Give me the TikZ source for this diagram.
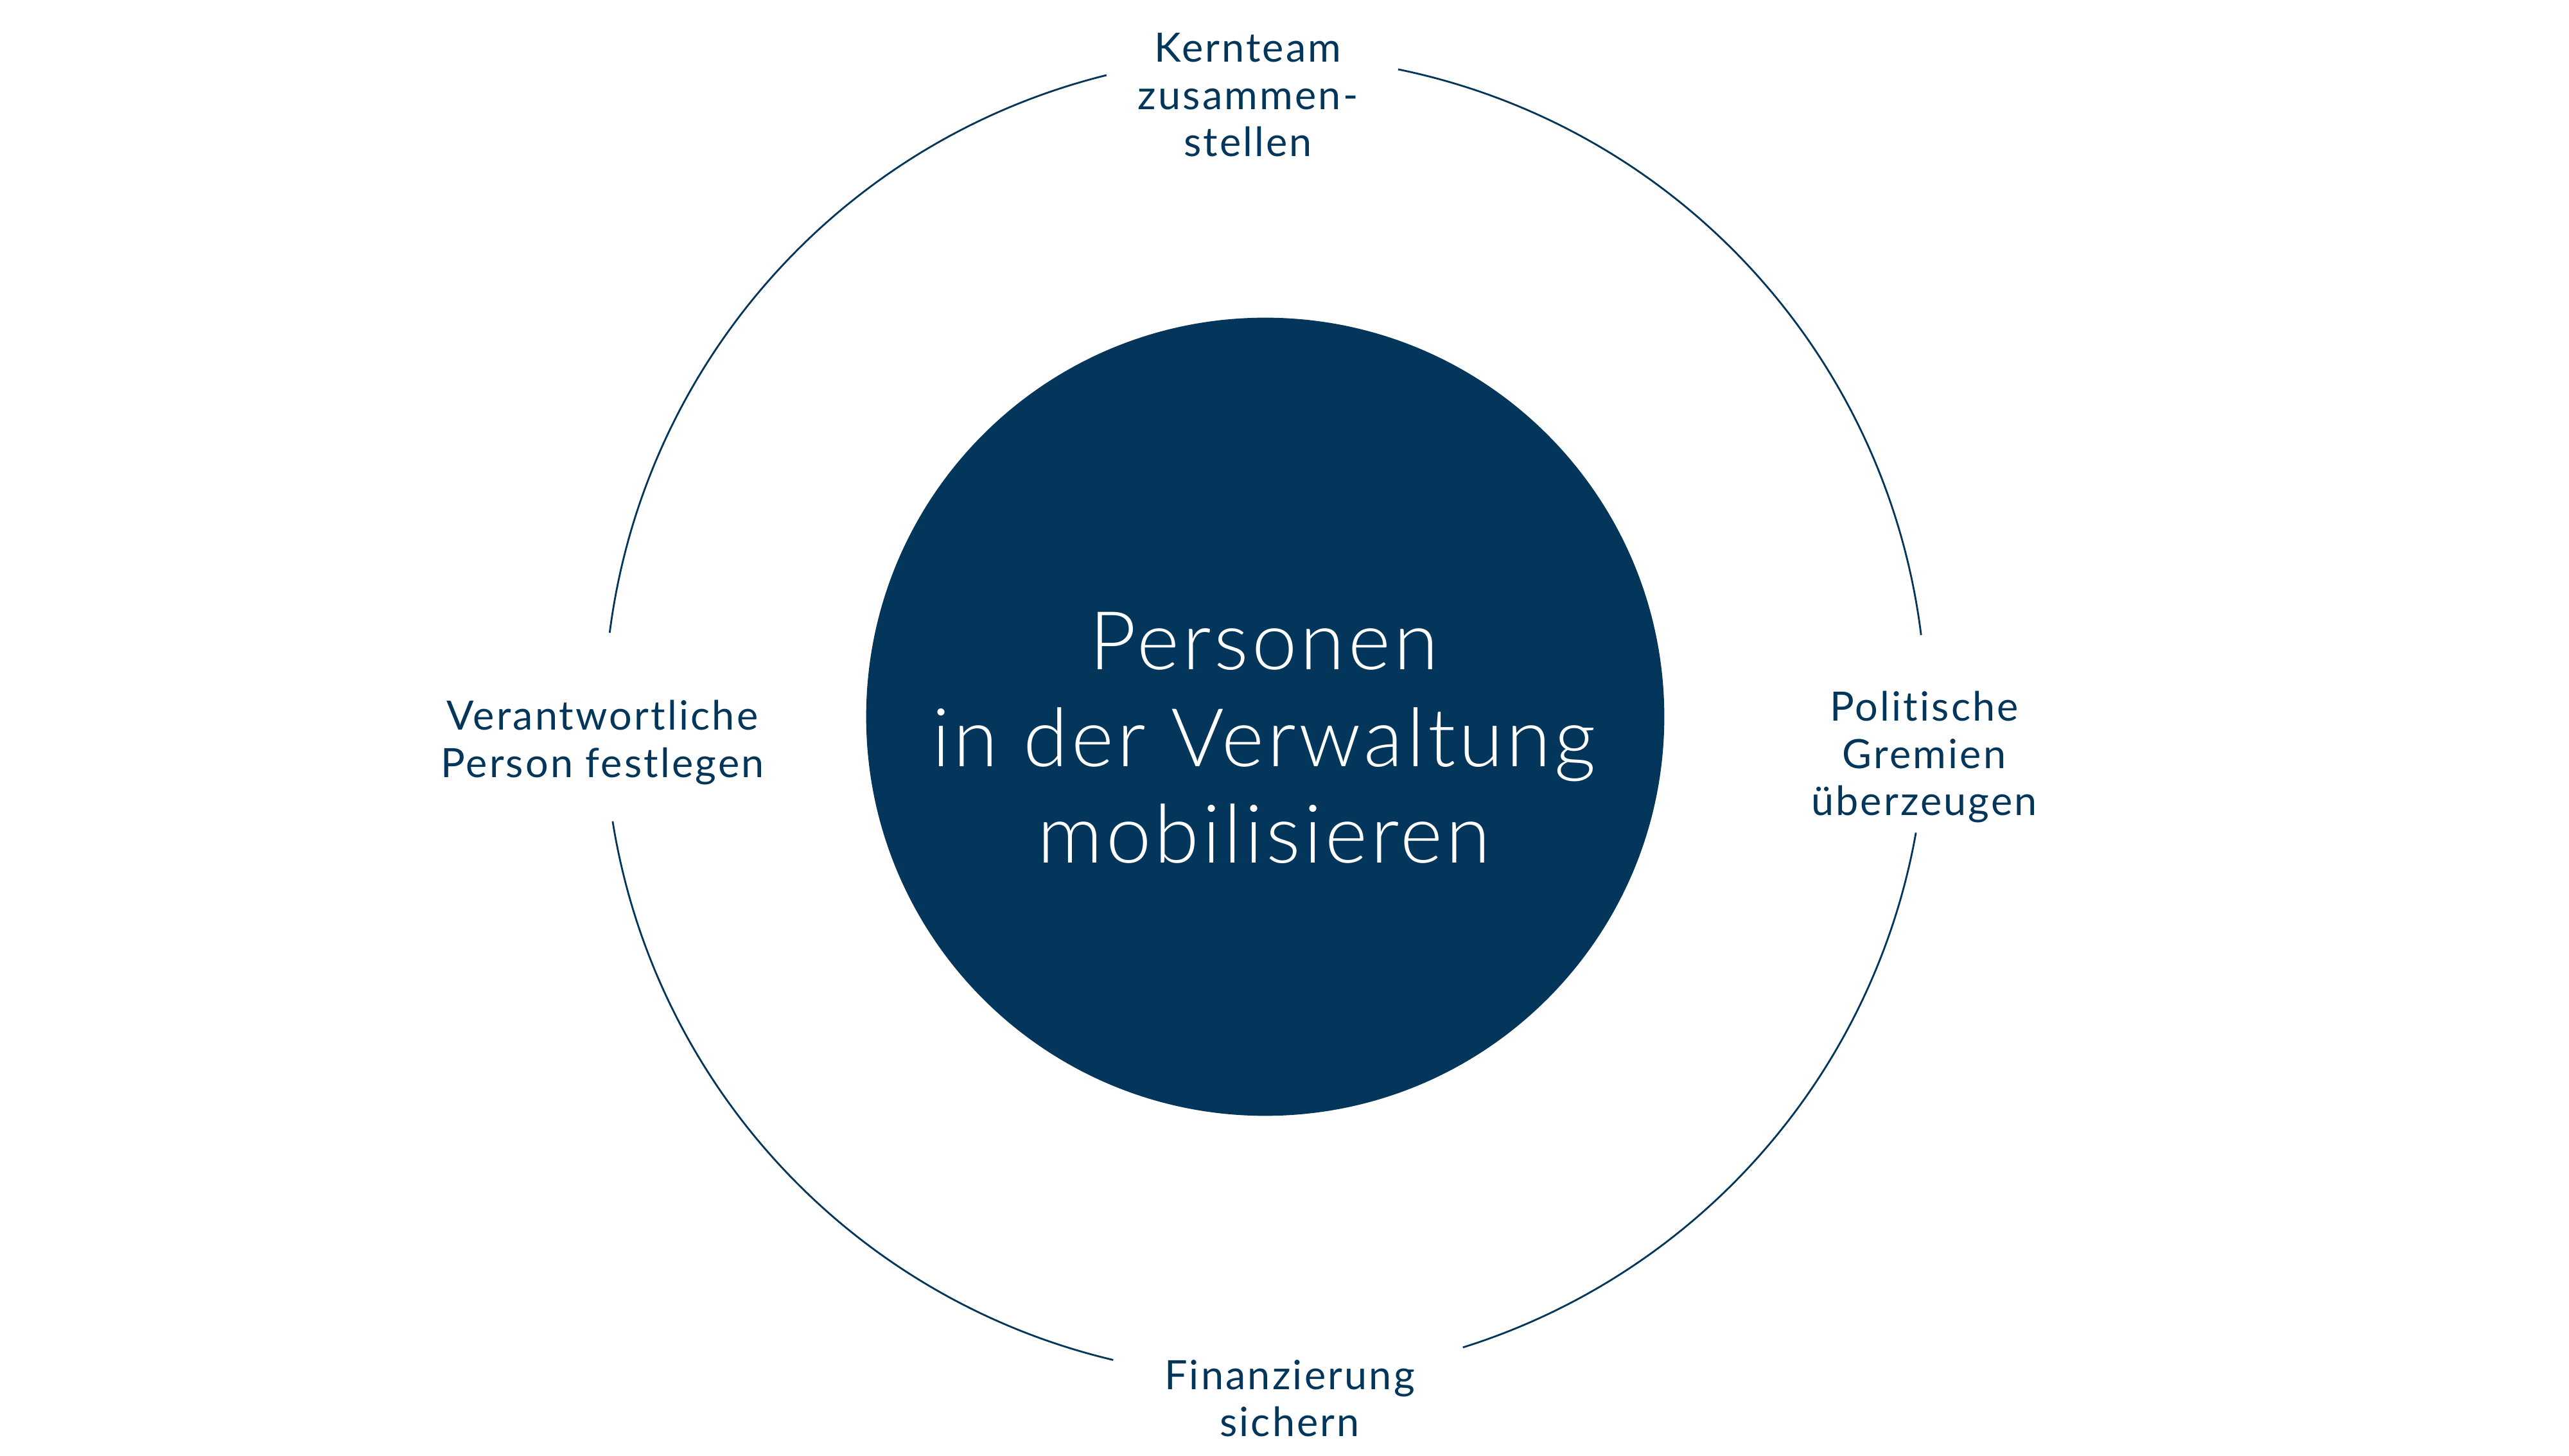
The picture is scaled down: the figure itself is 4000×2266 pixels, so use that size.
\documentclass[tikz,border=0pt]{standalone}
\usepackage{fontspec}
\setmainfont{Lato}[Ligatures=NoCommon]
\newfontfamily\lblfont{Lato}[LetterSpace=5, Ligatures=NoCommon]
\newfontfamily\bigfont{Lato Light}[LetterSpace=4, Ligatures=NoCommon]
\definecolor{navy}{RGB}{3,54,90}
\newcommand{\lbltext}[1]{\lblfont\fontsize{17.9}{20.9}\selectfont\begin{tabular}[t]{@{}c@{}}#1\end{tabular}}
\newcommand{\bigtext}[1]{\bigfont\fontsize{35.9}{42.7}\selectfont\begin{tabular}[t]{@{}c@{}}#1\end{tabular}}
\tikzset{
  lbl/.style={inner sep=0pt, outer sep=0pt, anchor=base, text=navy},
  core/.style={circle, fill=navy, draw=none, inner sep=0pt, minimum size=12.42cm},
  ring/.style={draw=navy, line width=0.8pt},
}
\begin{document}
\begin{tikzpicture}[x=0.01cm, y=0.01cm]
\useasboundingbox (0,0) rectangle (4000,2266);
\coordinate (C) at (1970,1150);
\node[core] (core) at (C) {};
\node[lbl, text=white] (title) at (1968,1223) {\bigtext{Personen\\in der Verwaltung\\mobilisieren}};
% outer ring, four arcs
\draw[ring] ([shift={(103.9:10.285cm)}]C) arc[start angle=103.9, end angle=172.7, radius=10.285cm];
\draw[ring] ([shift={(189.1:10.285cm)}]C) arc[start angle=189.1, end angle=256.7, radius=10.285cm];
\draw[ring] ([shift={(287.4:10.285cm)}]C) arc[start angle=287.4, end angle=349.9, radius=10.285cm];
\draw[ring] ([shift={(7.1:10.285cm)}]C) arc[start angle=7.1, end angle=78.4, radius=10.285cm];
% labels
\node[lbl] (kern) at (1943,2169) {\lbltext{Kernteam\\zusammen-\\stellen}};
\node[lbl] (verant) at (938,1129) {\lbltext{Verantwortliche\\Person festlegen}};
\node[lbl] (polit) at (2996,1143) {\lbltext{Politische\\Gremien\\überzeugen}};
\node[lbl] (finanz) at (2008,103) {\lbltext{Finanzierung\\sichern}};
\end{tikzpicture}
\end{document}
